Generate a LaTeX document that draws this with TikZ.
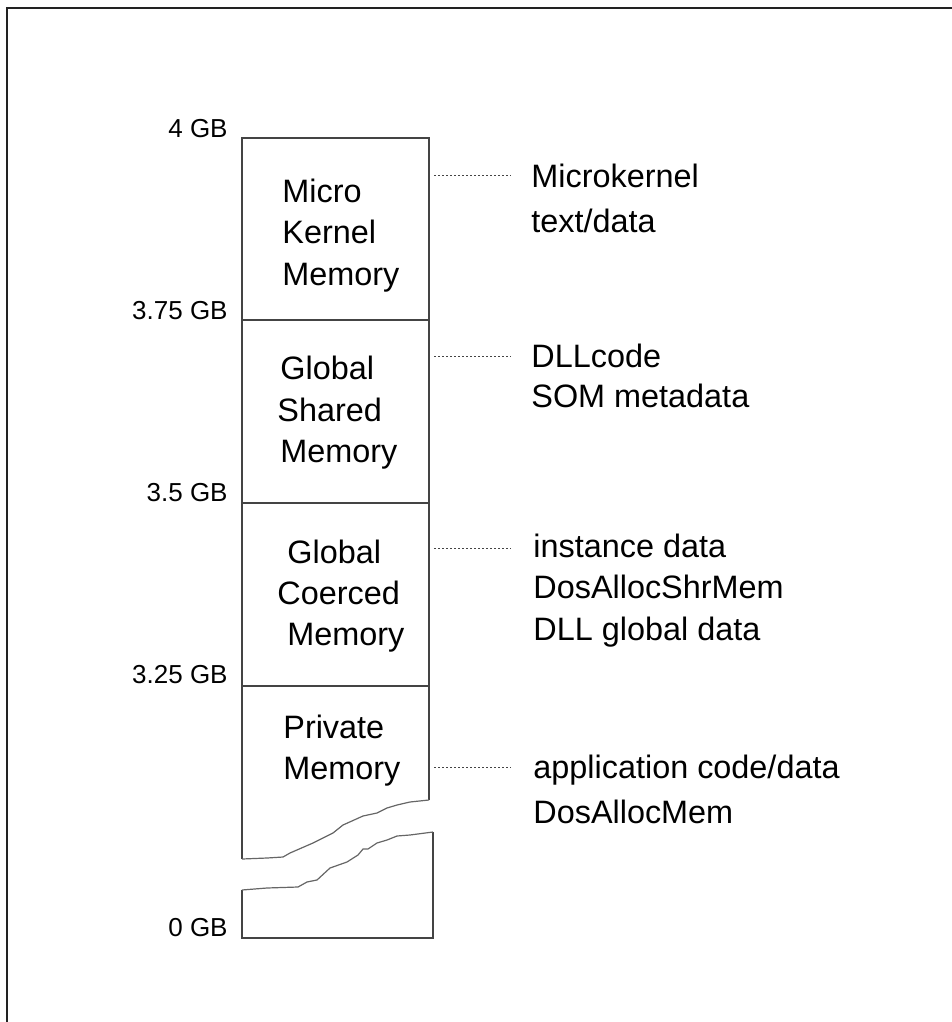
\documentclass[tikz,border=0pt]{standalone}
\usepackage{fontspec}
\setmainfont{Liberation Sans}
\definecolor{framecol}{HTML}{222222}
\definecolor{linecol}{HTML}{444444}
\definecolor{breakcol}{HTML}{666666}
\tikzset{
  frameline/.style={draw=framecol, line width=1pt},
  boxline/.style={draw=linecol, line width=0.6pt, line join=miter},
  breakline/.style={draw=breakcol, line width=0.6pt, line join=round},
  leader/.style={draw=linecol, line width=0.5pt, dash pattern=on 1pt off 1pt},
  boxtext/.style={anchor=base west, inner sep=0pt, font=\fontsize{16.2pt}{19pt}\selectfont},
  desc/.style={anchor=base west, inner sep=0pt, font=\fontsize{16.2pt}{19pt}\selectfont},
  addr/.style={anchor=base east, inner sep=0pt, font=\fontsize{13pt}{15pt}\selectfont}
}
\begin{document}
\begin{tikzpicture}[x=0.5pt, y=-0.5pt]
\useasboundingbox (0,0) rectangle (952,1022);

% outer frame (top and left edges only)
\draw[frameline] (952,8) -- (6.5,8) -- (6.5,1022);

% upper part of the address-space column, ending in a torn edge
\draw[boxline] (242,859) -- (242,138) -- (429,138) -- (429,800);
\draw[breakline] (242,859) -- (267,858) -- (283,857) -- (290,853) -- (313,843)
  -- (333,833) -- (343,825) -- (363,816) -- (377,813) -- (387,808)
  -- (397,805) -- (410,802) -- (429,800);

% lower part of the column, starting at a torn edge
\draw[boxline] (242,890) -- (242,938) -- (433,938) -- (433,832);
\draw[breakline] (242,890) -- (267,888) -- (298,887) -- (307,882) -- (317,880)
  -- (330,868) -- (347,862) -- (358,855) -- (363,849) -- (368,849)
  -- (377,843) -- (387,840) -- (397,836) -- (410,835) -- (433,832);

% region boundaries
\draw[boxline] (242,320) -- (429,320);
\draw[boxline] (242,503) -- (429,503);
\draw[boxline] (242,686) -- (429,686);

% address marks
\node[addr] (a4)   at (228,137) {4 GB};
\node[addr] (a375) at (228,319) {3.75 GB};
\node[addr] (a35)  at (228,501) {3.5 GB};
\node[addr] (a325) at (228,683) {3.25 GB};
\node[addr] (a0)   at (228,936) {0 GB};

% region names
\node[boxtext] (mk1) at (282,202) {Micro};
\node[boxtext] (mk2) at (282,243.5) {Kernel};
\node[boxtext] (mk3) at (282,285) {Memory};

\node[boxtext] (gs1) at (280,379) {Global};
\node[boxtext] (gs2) at (277,421) {Shared};
\node[boxtext] (gs3) at (280,462) {Memory};

\node[boxtext] (gc1) at (287,563) {Global};
\node[boxtext] (gc2) at (277,604) {Coerced};
\node[boxtext] (gc3) at (287,645) {Memory};

\node[boxtext] (pm1) at (283,738) {Private};
\node[boxtext] (pm2) at (283,779.5) {Memory};

% contents of each region
\node[desc] (mkd1) at (531,187) {Microkernel};
\node[desc] (mkd2) at (531,232) {text/data};

\node[desc] (gsd1) at (531,367) {DLLcode};
\node[desc] (gsd2) at (531,407) {SOM metadata};

\node[desc] (gcd1) at (533,557) {instance data};
\node[desc] (gcd2) at (533,598) {DosAllocShrMem};
\node[desc] (gcd3) at (533,640) {DLL global data};

\node[desc] (pmd1) at (533,778) {application code/data};
\node[desc] (pmd2) at (533,823) {DosAllocMem};

% dotted leaders from the column to the descriptions
\coordinate (mk-out) at (434,175);
\coordinate (gs-out) at (434,356);
\coordinate (gc-out) at (434,548);
\coordinate (pm-out) at (434,767);
\draw[leader, shorten >=10pt] (mk-out) -- (mk-out -| mkd1.west);
\draw[leader, shorten >=10pt] (gs-out) -- (gs-out -| gsd1.west);
\draw[leader, shorten >=11pt] (gc-out) -- (gc-out -| gcd1.west);
\draw[leader, shorten >=11pt] (pm-out) -- (pm-out -| pmd1.west);
\end{tikzpicture}
\end{document}
